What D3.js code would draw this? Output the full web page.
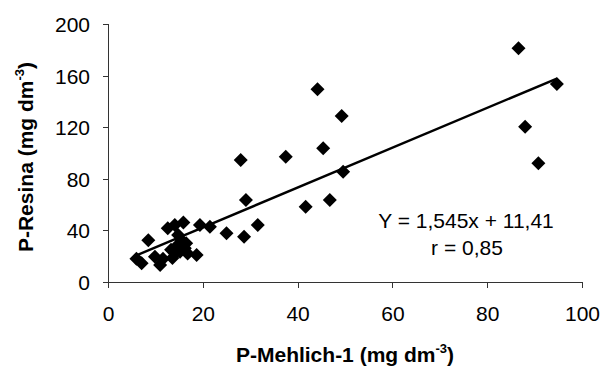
<!DOCTYPE html>
<html>
<head>
<meta charset="utf-8">
<script src="https://cdn.jsdelivr.net/npm/d3@7"></script>
<style>
  body { margin: 0; background: #fff; }
  text { font-family: Arial, "Liberation Sans", sans-serif; fill: #000; }
</style>
</head>
<body>
<div id="chart"></div>
<script>
// P-Mehlich-1 (x) against P-Resina (y)
var mehlich = [86.6, 94.7, 88.0, 90.8,
               44.2, 49.3, 45.4, 37.5, 28.0, 49.6,
               29.1, 41.7, 46.8, 31.6, 28.7, 25.0, 21.5, 19.4,
               6.0, 7.1, 8.5, 9.9, 11.0, 11.6, 12.6, 13.6, 14.1, 14.1,
               14.8, 15.9, 14.5, 15.5, 16.2, 15.2, 16.5, 16.8, 18.7, 13.3];
var resina  = [181.2, 153.5, 120.4, 92.0,
               149.5, 128.7, 103.6, 97.1, 94.6, 85.5,
               63.6, 58.4, 63.6, 44.2, 35.1, 37.7, 42.9, 44.2,
               18.0, 14.5, 32.3, 19.6, 13.2, 18.0, 41.6, 18.6, 22.2, 44.2,
               36.4, 46.2, 28.0, 32.6, 26.1, 23.5, 30.0, 22.0, 20.9, 25.0];

var xTicks = [0, 20, 40, 60, 80, 100];
var yTicks = [0, 40, 80, 120, 160, 200];

// trendline from the label
var slope = 1.545, intercept = 11.41;
var eqLabel = "Y = 1,545x + 11,41";
var rLabel = "r = 0,85";

var width = 607, height = 369;
var margin = {top: 24, right: 25, bottom: 87, left: 108};

var svg = d3.select("#chart").append("svg")
    .attr("width", width)
    .attr("height", height);

var x = d3.scaleLinear().domain([0, 100]).range([margin.left, width - margin.right]);
var y = d3.scaleLinear().domain([0, 200]).range([height - margin.bottom, margin.top]);

// axes
var xAxis = svg.append("g")
    .attr("transform", "translate(0," + y(0) + ")")
    .call(d3.axisBottom(x).tickValues(xTicks).tickSize(6).tickPadding(18));
var yAxis = svg.append("g")
    .attr("transform", "translate(" + x(0) + ",0)")
    .call(d3.axisLeft(y).tickValues(yTicks).tickSize(5).tickPadding(13));

[xAxis, yAxis].forEach(function(g) {
  g.select(".domain").attr("stroke", "#333").attr("shape-rendering", "crispEdges");
  g.selectAll(".tick line").attr("stroke", "#333").attr("shape-rendering", "crispEdges");
  g.selectAll("text").attr("font-size", 21).attr("font-family", "Arial, 'Liberation Sans', sans-serif").attr("fill", "#000");
});
yAxis.selectAll("text").attr("dy", "0.36em");

// regression line over the range of the data
var xr = d3.extent(mehlich);
svg.append("line")
    .attr("x1", x(xr[0])).attr("y1", y(slope * xr[0] + intercept))
    .attr("x2", x(xr[1])).attr("y2", y(slope * xr[1] + intercept))
    .attr("stroke", "#000")
    .attr("stroke-width", 2.5);

// diamonds
var pts = mehlich.map(function(v, i) { return [v, resina[i]]; });
svg.append("g").selectAll("path")
    .data(pts)
  .enter().append("path")
    .attr("transform", function(d) { return "translate(" + x(d[0]) + "," + y(d[1]) + ")"; })
    .attr("d", "M0,-7L7,0L0,7L-7,0Z")
    .attr("fill", "#000");

// equation label
svg.append("text")
    .attr("x", 466).attr("y", 228)
    .attr("text-anchor", "middle")
    .attr("font-size", 21)
    .text(eqLabel);
svg.append("text")
    .attr("x", 467).attr("y", 255)
    .attr("text-anchor", "middle")
    .attr("font-size", 21)
    .text(rLabel);

// axis titles
var xt = svg.append("text")
    .attr("x", (x(0) + x(100)) / 2).attr("y", 362)
    .attr("text-anchor", "middle")
    .attr("font-size", 21)
    .attr("font-weight", "bold");
xt.append("tspan").text("P-Mehlich-1 (mg dm");
xt.append("tspan").attr("font-size", 13).attr("dy", -9).text("-3");
xt.append("tspan").attr("dy", 9).text(")");

var yt = svg.append("text")
    .attr("transform", "translate(33," + ((y(0) + y(200)) / 2 + 4) + ") rotate(-90)")
    .attr("text-anchor", "middle")
    .attr("font-size", 21)
    .attr("font-weight", "bold");
yt.append("tspan").text("P-Resina (mg dm");
yt.append("tspan").attr("font-size", 13).attr("dy", -9).text("-3");
yt.append("tspan").attr("dy", 9).text(")");
</script>
</body>
</html>
